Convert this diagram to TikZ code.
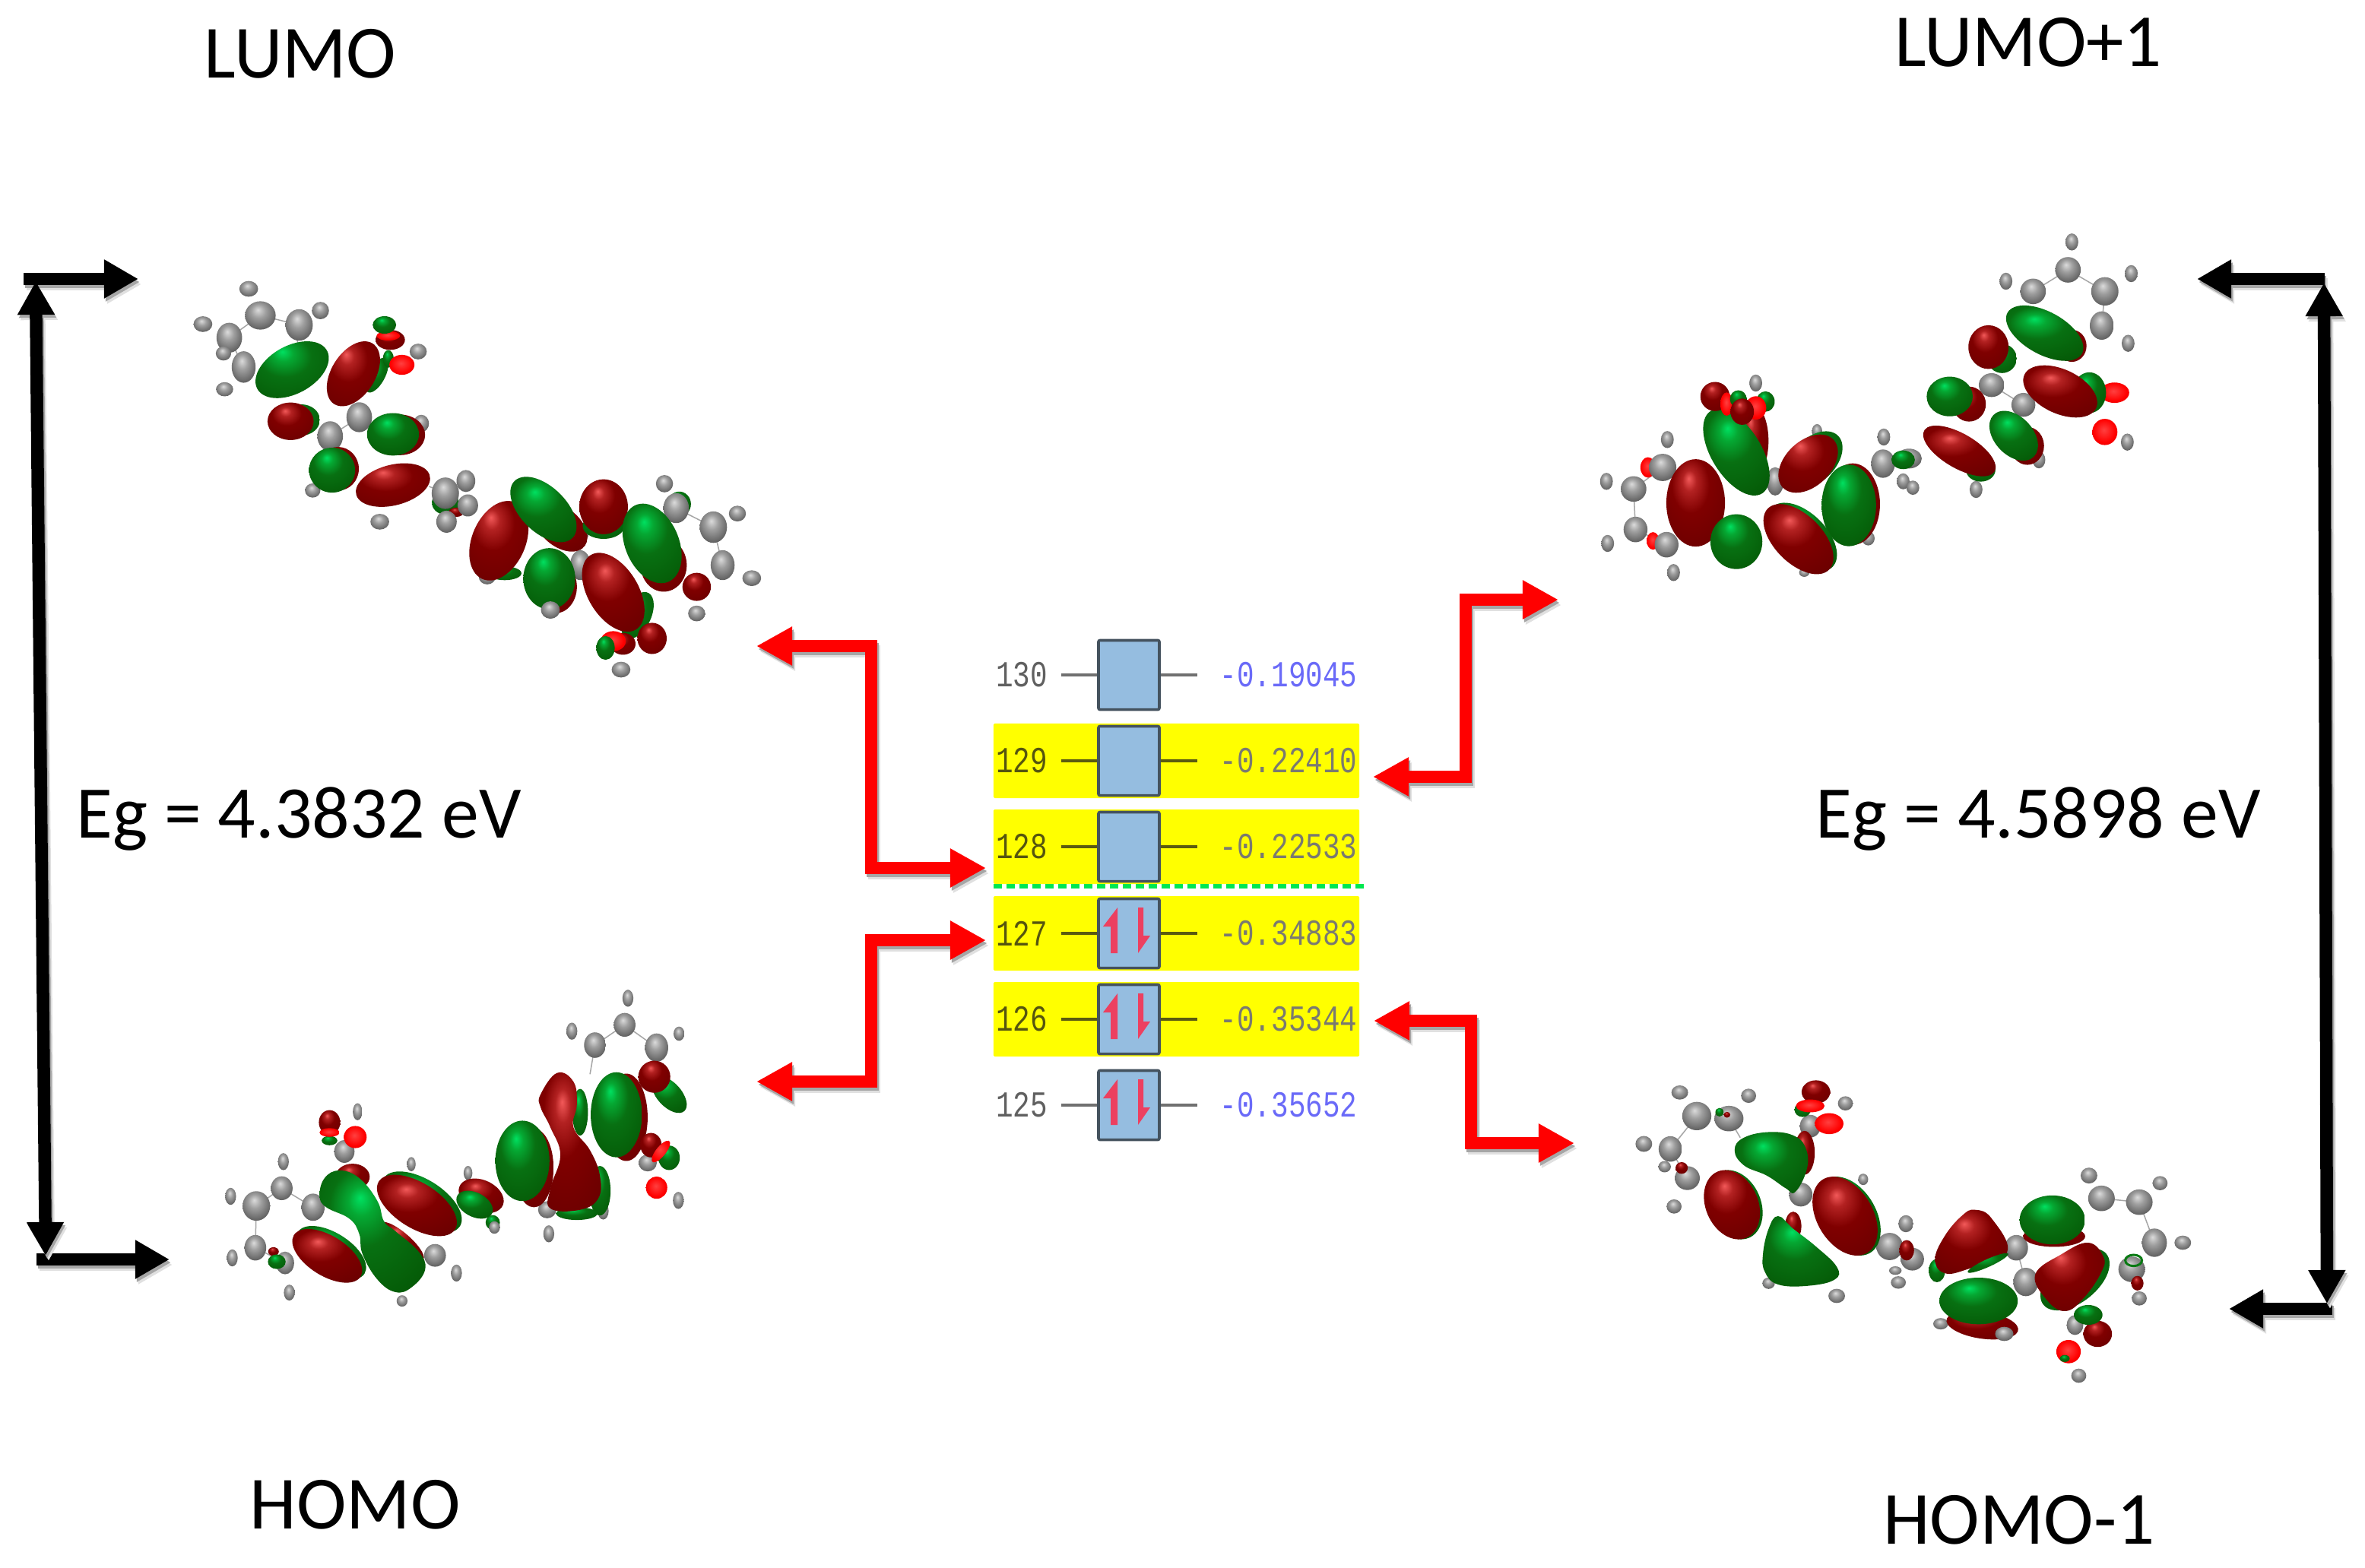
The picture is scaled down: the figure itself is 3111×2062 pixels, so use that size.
\documentclass[tikz,border=0pt]{standalone}
\usepackage{fontspec}
\setmainfont{Carlito}
\newfontfamily\monof{Liberation Mono}
\usetikzlibrary{arrows.meta}
\definecolor{boxfill}{HTML}{95BDE0}
\definecolor{boxedge}{HTML}{44525E}
\definecolor{rowyellow}{HTML}{FFFF00}
\definecolor{halfred}{HTML}{EC4060}
\definecolor{homoline}{HTML}{00E850}
\definecolor{valblue}{HTML}{6A6AF8}
\definecolor{valgray}{HTML}{7A7A70}
\definecolor{labgray}{HTML}{606060}
\definecolor{labolive}{HTML}{55550F}
\definecolor{wiregray}{HTML}{707070}
\definecolor{wireolive}{HTML}{5A5A10}
\definecolor{ringgreen}{HTML}{0A7A14}
\pgfdeclareradialshading{lobeG}{\pgfpoint{-6bp}{14bp}}{rgb(0bp)=(0,.88,.38);rgb(6bp)=(.02,.66,.2);rgb(16bp)=(.03,.44,.07);rgb(34bp)=(.02,.36,.03);rgb(50bp)=(0,.22,0);rgb(60bp)=(0,.18,0)}
\pgfdeclareradialshading{lobeR}{\pgfpoint{-6bp}{14bp}}{rgb(0bp)=(.95,.35,.35);rgb(6bp)=(.7,.13,.13);rgb(16bp)=(.5,0,0);rgb(34bp)=(.43,0,0);rgb(50bp)=(.28,0,0);rgb(60bp)=(.22,0,0)}
\pgfdeclareradialshading{oxy}{\pgfpoint{-2bp}{4bp}}{rgb(0bp)=(1,.25,.25);rgb(22bp)=(1,0,0);rgb(40bp)=(.8,0,0);rgb(50bp)=(.6,0,0)}
\pgfdeclareradialshading{atomS}{\pgfpoint{-4bp}{10bp}}{rgb(0bp)=(.86,.86,.86);rgb(12bp)=(.62,.62,.62);rgb(30bp)=(.36,.36,.36);rgb(50bp)=(.62,.62,.62)}
\newcommand{\lobe}[6]{\shade[shading=#6,shift={(#1,#2)},rotate=#5] (0,0) ellipse [x radius=#3*1.08,y radius=#4*1.15];}
\newcommand{\blob}[2]{\shade[shading=#1] plot[smooth cycle,tension=.7] coordinates {#2};}
\newcommand{\atomyf}{1.12}
\newcommand{\atoms}[1]{\foreach \ax/\ay/\pa/\pb in {#1}{\shade[shading=atomS] (\ax,\ay) ellipse [x radius=\pa*1.1,y radius=\pb*\atomyf];}}
\newcommand{\bonds}[1]{\foreach \ax/\ay/\bx/\by in {#1}{\draw[bond] (\ax,\ay) -- (\bx,\by);}}
\newcommand{\softconn}[2]{%
  \begin{scope}[transform canvas={shift={(4,7)}}]\draw[#1,color=black!12] #2;\end{scope}
  \begin{scope}[transform canvas={shift={(2,4)}}]\draw[#1,color=black!35] #2;\end{scope}
  \draw[#1] #2;}
\newcommand{\spinpair}[1]{%
  \fill[halfred,shift={(#1.center)}] (-15,-34) -- (-15,26) -- (-24,26) -- (-24,-9) -- (-34,-9) -- cycle;
  \fill[halfred,shift={(#1.center)}] (12,-34) -- (19,-34) -- (19,3) -- (28,3) -- (12,26) -- cycle;}
\tikzset{
  bond/.style={draw=black!35,line width=0.015cm},
  bigtext/.style={anchor=base,inner sep=0pt,font=\fontsize{28.1}{30}\selectfont},
  gaptext/.style={anchor=base,inner sep=0pt,font=\fontsize{27.8}{30}\selectfont},
  redconn/.style={line width=0.16cm,red,{Triangle[length=0.47cm,width=0.48cm]}-{Triangle[length=0.47cm,width=0.48cm]}},
  blackv/.style={line width=0.165cm,black,{Triangle[length=0.44cm,width=0.46cm]}-{Triangle[length=0.44cm,width=0.46cm]}},
  blackh/.style={line width=0.16cm,black,-{Triangle[length=0.45cm,width=0.48cm]}},
  orbbox/.style={draw=boxedge,fill=boxfill,line width=0.036cm,rounded corners=0.02cm,minimum width=0.8cm,minimum height=0.91cm,inner sep=0pt},
  rowbar/.style={fill=rowyellow,minimum width=4.81cm,minimum height=0.98cm,inner sep=0pt,rounded corners=0.015cm},
  numtext/.style={inner sep=0pt,font=\monof\fontsize{13.7}{14}\selectfont}
}
\begin{document}
\begin{tikzpicture}[x=0.01cm,y=-0.01cm]
\useasboundingbox (0,0) rectangle (3111,2062);
\fill[white] (0,0) rectangle (3111,2062);

% ---------- labels
\node[bigtext] (tLumo) at (395,102) {LUMO};
\node[bigtext] (tLumoOne) at (2668,87) {LUMO+1};
\node[bigtext] (tHomo) at (467,2011) {HOMO};
\node[bigtext] (tHomoOne) at (2656,2031) {HOMO-1};
\node[gaptext] (tEgL) at (393,1102) {Eg = 4.3832 eV};
\node[gaptext] (tEgR) at (2681,1102) {Eg = 4.5898 eV};

% ---------- orbital table
\foreach \nm/\yy in {129/1001,128/1114,127/1228,126/1341}{
  \node[rowbar] (bar\nm) at (1547.5,\yy) {};
}
\foreach \nm/\yy/\vv/\lc/\vc/\wc in {
  130/888/-0.19045/labgray/valblue/wiregray,
  129/1001/-0.22410/labolive/valgray/wireolive,
  128/1114/-0.22533/labolive/valgray/wireolive,
  127/1228/-0.34883/labolive/valgray/wireolive,
  126/1341/-0.35344/labolive/valgray/wireolive,
  125/1454/-0.35652/labgray/valblue/wiregray}{
  \node[orbbox] (box\nm) at (1485,\yy) {};
  \coordinate (wl\nm) at (1396,\yy);
  \coordinate (wr\nm) at (1575,\yy);
  \draw[\wc,line width=0.035cm] (wl\nm) -- (box\nm.west);
  \draw[\wc,line width=0.035cm] (box\nm.east) -- (wr\nm);
  \node[numtext,text=\lc] (lab\nm) at (1344,\yy) {\scalebox{0.78}[1]{\nm}};
  \node[numtext,text=\vc] (val\nm) at (1695,\yy) {\scalebox{0.78}[1]{\vv}};
}
\spinpair{box127}
\spinpair{box126}
\spinpair{box125}
\coordinate (homoA) at (1307,1166);
\coordinate (homoB) at (1798,1166);
\draw[homoline,line width=0.065cm,dash pattern=on 0.11cm off 0.06cm] (homoA) -- (homoB);

% ---------- red connectors
\coordinate (lumoTip) at (995,850);
\coordinate (lumoBend) at (1146,1142);
\coordinate (lumoRow) at (1297,1142);
\coordinate (homoTip) at (995,1423);
\coordinate (homoBend) at (1146,1237);
\coordinate (homoRow) at (1297,1237);
\coordinate (loneTip) at (2050,789);
\coordinate (loneBend) at (1928,1022);
\coordinate (loneRow) at (1806,1022);
\coordinate (honeTip) at (2071,1504);
\coordinate (honeBend) at (1935,1343);
\coordinate (honeRow) at (1807,1343);
\softconn{redconn}{(lumoTip) -| (lumoBend) -- (lumoRow)}
\softconn{redconn}{(homoTip) -| (homoBend) -- (homoRow)}
\softconn{redconn}{(loneTip) -| (loneBend) -- (loneRow)}
\softconn{redconn}{(honeRow) -| (honeBend) |- (honeTip)}

% ---------- black gap arrows
\coordinate (gLa) at (47,370);
\coordinate (gLb) at (60,1652);
\coordinate (gLc) at (31,367);
\coordinate (gLd) at (182,367);
\coordinate (gLe) at (48,1657);
\coordinate (gLf) at (223,1657);
\coordinate (gRa) at (3057,372);
\coordinate (gRb) at (3061,1715);
\coordinate (gRc) at (3058,367);
\coordinate (gRd) at (2890,367);
\coordinate (gRe) at (3068,1722);
\coordinate (gRf) at (2932,1722);
\softconn{blackh}{(gLc) -- (gLd)}
\softconn{blackh}{(gLe) -- (gLf)}
\softconn{blackh}{(gRc) -- (gRd)}
\softconn{blackh}{(gRe) -- (gRf)}
\softconn{blackv}{(gLa) -- (gLb)}
\softconn{blackv}{(gRa) -- (gRb)}

% ---------- LUMO molecule
\begin{scope}[shift={(220,340)},xscale=0.5102,yscale=0.3571]
\renewcommand{\atomyf}{1.45}
\bonds{240/210/340/245,240/210/160/292,160/292/197/400,340/245/335/320,420/655/495/585,1408/990/1432/1130,1312/920/1408/990,1065/1010/1065/1130,675/840/717/865}
\lobe{717}{900}{32}{38}{0}{lobeG}
\lobe{745}{935}{18}{15}{0}{lobeR}
\lobe{1320}{905}{28}{40}{0}{lobeG}
\atoms{240/210/36/36,340/245/32/40,160/292/30/38,197/400/28/40,420/655/30/38,495/585/30/38,717/865/32/40,775/910/24/28,720/970/24/28,1312/920/30/38,1408/990/32/40,1432/1130/28/38,1065/1010/20/25,1065/1130/24/38,210/112/22/20,92/242/22/20,395/192/20/22,145/350/18/18,148/482/20/18,647/343/20/20,655/608/18/22,375/855/18/18,548/970/22/20,770/820/22/28,1282/830/20/22,1470/940/20/20,1507/1178/22/20,1365/1308/20/20,825/1172/20/20,988/1295/22/22,1170/1515/22/20}
\lobe{322}{410}{110}{66}{52}{lobeG}
\lobe{540}{430}{62}{20}{72}{lobeG}
\lobe{480}{425}{115}{52}{72}{lobeR}
\lobe{570}{370}{13}{28}{0}{lobeG}
\lobe{575}{300}{35}{32}{0}{lobeR}
\lobe{570}{285}{28}{15}{0}{oxy}
\lobe{560}{245}{28}{28}{0}{lobeG}
\lobe{605}{392}{30}{32}{0}{oxy}
\lobe{345}{595}{45}{50}{0}{lobeG}
\lobe{318}{600}{55}{60}{0}{lobeR}
\lobe{600}{650}{60}{65}{0}{lobeR}
\lobe{582}{648}{62}{68}{0}{lobeG}
\lobe{440}{775}{50}{70}{0}{lobeR}
\lobe{425}{780}{55}{72}{0}{lobeG}
\lobe{582}{835}{95}{62}{30}{lobeR}
\lobe{870}{1160}{40}{22}{0}{lobeG}
\lobe{855}{1040}{138}{62}{78}{lobeR}
\lobe{1015}{990}{90}{50}{-62}{lobeR}
\lobe{970}{925}{122}{58}{-62}{lobeG}
\lobe{1125}{985}{50}{42}{0}{lobeG}
\lobe{1125}{915}{58}{88}{0}{lobeR}
\lobe{1280}{1130}{55}{85}{0}{lobeR}
\lobe{1250}{1050}{138}{62}{-78}{lobeG}
\lobe{1000}{1210}{52}{85}{0}{lobeR}
\lobe{985}{1180}{62}{98}{0}{lobeG}
\lobe{1212}{1315}{82}{32}{75}{lobeG}
\lobe{1150}{1230}{140}{60}{-72}{lobeR}
\lobe{1365}{1210}{34}{45}{0}{lobeR}
\lobe{1250}{1400}{35}{50}{0}{lobeR}
\lobe{1175}{1420}{30}{35}{0}{lobeR}
\lobe{1150}{1410}{30}{32}{0}{oxy}
\lobe{1130}{1435}{22}{38}{0}{lobeG}
\atoms{988/1295/22/22}
\end{scope}

% ---------- LUMO+1 molecule
\begin{scope}[shift={(2080,280)},xscale=0.5102,yscale=0.3333]
\bonds{1255/225/1165/310,1255/225/1350/310,1350/310/1342/445,135/1090/140/1250,1058/680/1140/758,210/1005/135/1090,140/1250/220/1310}
\lobe{172}{1005}{18}{35}{0}{oxy}
\lobe{185}{1295}{15}{30}{0}{oxy}
\atoms{1255/225/30/45,1165/310/30/45,1350/310/32/50,1342/445/28/50,1265/115/15/30,1095/270/15/30,1418/240/15/30,1410/515/15/30,1058/680/30/42,1140/758/28/42,450/672/15/30,608/862/12/25,1408/905/15/30,1180/975/15/30,1018/1092/15/30,780/885/15/30,778/990/28/50,830/1060/15/28,855/1085/15/25,740/1285/15/25,500/1060/20/50,222/895/15/30,65/1060/15/30,210/1005/32/48,135/1090/30/45,140/1250/28/45,220/1310/28/45,68/1305/15/30,238/1420/15/30,575/1420/12/15,845/970/30/35}
\lobe{830}{975}{28}{32}{0}{lobeG}
\lobe{295}{1145}{70}{150}{0}{lobeR}
\lobe{445}{900}{35}{120}{0}{lobeR}
\lobe{400}{945}{165}{60}{-72}{lobeG}
\lobe{600}{975}{110}{55}{68}{lobeG}
\lobe{585}{990}{112}{58}{68}{lobeR}
\lobe{700}{1150}{65}{140}{0}{lobeR}
\lobe{690}{1155}{65}{140}{0}{lobeG}
\lobe{400}{1298}{62}{94}{0}{lobeG}
\lobe{570}{1280}{135}{62}{-65}{lobeG}
\lobe{560}{1288}{138}{62}{-65}{lobeR}
\lobe{345}{725}{35}{50}{0}{lobeR}
\lobe{375}{755}{15}{40}{0}{oxy}
\lobe{405}{735}{20}{30}{0}{lobeG}
\lobe{475}{745}{22}{35}{0}{lobeG}
\lobe{450}{770}{25}{40}{0}{oxy}
\lobe{415}{785}{28}{45}{0}{lobeR}
\lobe{1265}{525}{35}{55}{0}{lobeR}
\lobe{1195}{475}{120}{62}{-50}{lobeG}
\lobe{1085}{575}{35}{50}{0}{lobeG}
\lobe{1050}{530}{48}{75}{0}{lobeR}
\lobe{1000}{755}{40}{60}{0}{lobeR}
\lobe{950}{725}{55}{68}{0}{lobeG}
\lobe{1030}{1015}{35}{40}{0}{lobeG}
\lobe{975}{940}{115}{50}{-48}{lobeR}
\lobe{1150}{920}{40}{65}{0}{lobeR}
\lobe{1115}{880}{95}{48}{-70}{lobeG}
\lobe{1375}{710}{35}{35}{0}{oxy}
\lobe{1310}{710}{40}{70}{0}{lobeG}
\lobe{1235}{705}{110}{65}{-50}{lobeR}
\lobe{1350}{900}{12}{12}{0}{lobeG}
\lobe{1350}{865}{30}{45}{0}{oxy}
\end{scope}

% ---------- HOMO molecule
\begin{scope}[shift={(260,1280)},xscale=0.4337,yscale=0.3333]
\bonds{1295/205/1205/285,1295/205/1392/295,255/850/350/925,255/850/178/920,178/920/175/1085,175/1085/265/1145,1205/285/1190/400}
\atoms{1295/205/30/42,1205/285/30/45,1392/295/32/50,1305/100/15/30,1135/230/15/30,1460/240/15/25,445/705/28/40,485/548/13/30,255/850/30/42,178/920/38/52,350/925/32/48,260/745/15/30,100/882/15/30,175/1085/30/45,265/1145/25/40,105/1125/15/30,278/1262/15/28,720/1115/30/40,785/1185/15/30,648/755/12/25,620/1295/15/20,820/790/12/25,900/1000/15/25,1065/1030/15/30,1060/935/25/30,1230/940/15/30,1365/750/25/30,1458/898/15/30}
\lobe{470}{805}{48}{45}{0}{lobeR}
\lobe{620}{1060}{90}{25}{-50}{lobeR}
\blob{lobeG}{(370,880) (385,810) (430,780) (490,810) (545,900) (565,980) (600,1020) (670,1100) (690,1170) (650,1240) (600,1260) (545,1210) (500,1110) (490,1030) (460,970) (390,925)}
\lobe{680}{905}{140}{70}{-45}{lobeG}
\lobe{665}{918}{140}{70}{-45}{lobeR}
\lobe{405}{1105}{122}{62}{-45}{lobeG}
\lobe{393}{1117}{122}{62}{-45}{lobeR}
\lobe{895}{985}{20}{25}{0}{lobeG}
\lobe{860}{880}{72}{50}{-45}{lobeR}
\lobe{840}{915}{60}{38}{-45}{lobeG}
\atoms{900/1005/15/22}
\lobe{1020}{770}{55}{135}{0}{lobeR}
\lobe{985}{742}{76}{138}{0}{lobeG}
\lobe{1160}{550}{22}{80}{0}{lobeG}
\lobe{1220}{860}{30}{85}{0}{lobeG}
\lobe{1150}{950}{58}{22}{0}{lobeG}
\blob{lobeR}{(1040,480) (1090,395) (1140,430) (1150,520) (1140,610) (1190,700) (1220,800) (1215,890) (1160,935) (1070,930) (1070,850) (1100,720) (1070,610) (1040,530)}
\lobe{1300}{570}{60}{150}{0}{lobeR}
\lobe{1270}{560}{72}{146}{0}{lobeG}
\lobe{1430}{480}{75}{35}{-60}{lobeG}
\lobe{1385}{410}{45}{55}{0}{lobeR}
\lobe{1375}{680}{30}{42}{0}{lobeR}
\lobe{1430}{730}{30}{42}{0}{lobeG}
\lobe{1405}{705}{45}{14}{60}{oxy}
\lobe{1392}{848}{30}{38}{0}{oxy}
\lobe{400}{662}{22}{16}{0}{lobeG}
\lobe{400}{590}{30}{42}{0}{lobeR}
\lobe{400}{630}{28}{15}{0}{oxy}
\lobe{478}{648}{32}{38}{0}{oxy}
\lobe{230}{1100}{15}{15}{0}{lobeR}
\lobe{240}{1140}{25}{25}{0}{lobeG}
\end{scope}

% ---------- HOMO-1 molecule
\begin{scope}[shift={(2130,1400)},xscale=0.4975,yscale=0.3333]
\bonds{205/205/135/335,135/335/180/450,290/215/320/290,1275/530/1375/545,1375/545/1415/705,1050/725/1075/860}
\atoms{205/205/35/50,290/215/35/45,135/335/28/45,180/450/30/42,505/245/25/40,480/515/28/42,160/112/20/25,342/125/18/25,65/315/20/28,120/405/15/20,145/562/18/25,598/155/18/25,645/455/12/20,395/865/15/20,575/915/20/25,715/720/32/48,775/770/28/40,758/630/18/30,730/815/15/15,738/862/18/22,1050/725/28/45,1075/860/30/50,850/1025/18/20,1275/530/32/45,1375/545/32/45,1415/705/30/50,1242/440/20/28,1430/470/18/25,1490/705/20/25,1355/810/32/45,1375/925/18/25,1215/1230/18/25,1205/1030/20/35}
\lobe{165}{410}{15}{20}{0}{lobeR}
\lobe{265}{190}{10}{15}{0}{lobeG}
\lobe{285}{200}{8}{10}{0}{lobeR}
\lobe{760}{735}{18}{35}{0}{lobeR}
\lobe{1370}{865}{15}{25}{0}{lobeR}
\lobe{490}{350}{25}{75}{0}{lobeR}
\blob{lobeG}{(305,340) (330,290) (400,268) (465,285) (495,340) (495,420) (465,505) (440,490) (390,440) (330,400)}
\lobe{305}{555}{128}{62}{-80}{lobeG}
\lobe{298}{555}{128}{62}{-80}{lobeR}
\lobe{605}{600}{148}{68}{-75}{lobeG}
\lobe{597}{600}{148}{68}{-75}{lobeR}
\lobe{460}{640}{20}{50}{0}{lobeR}
\blob{lobeG}{(420,600) (460,650) (520,720) (575,800) (570,850) (500,875) (420,870) (385,820) (380,750) (395,650)}
\lobe{960}{1030}{90}{46}{-15}{lobeR}
\lobe{840}{815}{20}{40}{0}{lobeG}
\blob{lobeR}{(940,575) (985,610) (1025,745) (920,810) (860,825) (835,770) (860,680) (905,600)}
\lobe{975}{785}{60}{12}{35}{lobeG}
\lobe{950}{935}{96}{80}{0}{lobeG}
\atoms{1018/1065/22/25}
\lobe{1150}{680}{76}{36}{0}{lobeR}
\lobe{1145}{615}{80}{84}{0}{lobeG}
\lobe{1205}{850}{125}{62}{60}{lobeG}
\blob{lobeR}{(1240,705) (1280,760) (1275,820) (1230,920) (1180,975) (1130,930) (1100,830) (1170,750)}
\lobe{1265}{1065}{35}{45}{0}{lobeR}
\lobe{1240}{990}{35}{34}{0}{lobeG}
\lobe{1188}{1135}{30}{40}{0}{oxy}
\lobe{1178}{1162}{12}{12}{0}{lobeG}
\draw[ringgreen,line width=0.03cm] (1360,775) ellipse [x radius=22,y radius=22];
\lobe{520}{110}{35}{40}{0}{lobeR}
\lobe{485}{180}{20}{25}{0}{lobeG}
\lobe{505}{165}{35}{22}{0}{oxy}
\lobe{555}{235}{35}{36}{0}{oxy}
\end{scope}
\end{tikzpicture}
\end{document}
